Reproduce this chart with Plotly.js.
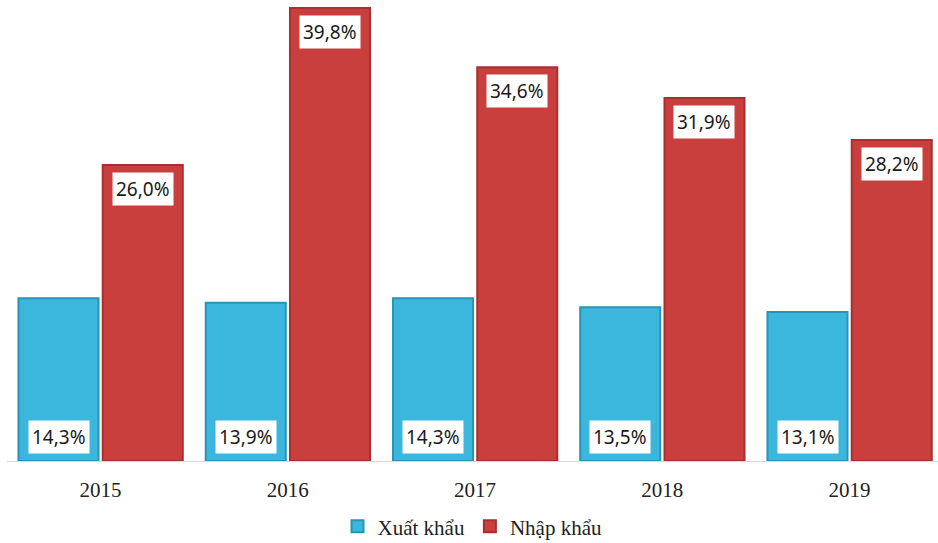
<!DOCTYPE html>
<html>
<head>
<meta charset="utf-8">
<script src="https://cdn.plot.ly/plotly-3.0.1.min.js"></script>
<style>
html,body{margin:0;padding:0;background:#fff;}
#chart{width:938px;height:543px;}
</style>
</head>
<body>
<div id="chart"></div>
<script>
const years = ['2015', '2016', '2017', '2018', '2019'];
const xuatKhau = [14.3, 13.9, 14.3, 13.5, 13.1];
const nhapKhau = [26.0, 39.8, 34.6, 31.9, 28.2];
const seriesNames = ['Xuất khẩu', 'Nhập khẩu'];

const fmt = v => v.toFixed(1).replace('.', ',') + '%';

const traces = [
  {
    type: 'bar', name: seriesNames[0], x: years, y: xuatKhau,
    marker: {color: '#3BB6DC', line: {color: '#2A93B8', width: 2}},
    hoverinfo: 'none'
  },
  {
    type: 'bar', name: seriesNames[1], x: years, y: nhapKhau,
    marker: {color: '#C93F3D', line: {color: '#A83030', width: 2}},
    hoverinfo: 'none'
  }
];

const annotations = [];
years.forEach((yr, i) => {
  annotations.push({
    x: i, y: 0, xref: 'x', yref: 'y', text: fmt(xuatKhau[i]),
    showarrow: false, xanchor: 'center', yanchor: 'bottom',
    xshift: -42, yshift: 7, bgcolor: '#ffffff', borderpad: 3,
    font: {family: 'Noto Sans, sans-serif', size: 19, color: '#1a1a1a'}
  });
  annotations.push({
    x: i, y: nhapKhau[i], xref: 'x', yref: 'y', text: fmt(nhapKhau[i]),
    showarrow: false, xanchor: 'center', yanchor: 'top',
    xshift: 42, yshift: -7, bgcolor: '#ffffff', borderpad: 3,
    font: {family: 'Noto Sans, sans-serif', size: 19, color: '#1a1a1a'}
  });
});

const layout = {
  width: 938, height: 543,
  margin: {l: 7, r: 0, t: 0, b: 82},
  paper_bgcolor: '#fff', plot_bgcolor: '#fff',
  barmode: 'group', bargap: 0.1, bargroupgap: 0.05,
  xaxis: {
    type: 'category', range: [-0.5, 4.472], automargin: false,
    showline: true, linecolor: '#d9d9d9', linewidth: 1,
    showgrid: false, zeroline: false, ticks: '', ticklabelstandoff: 10,
    tickfont: {family: 'Liberation Serif, serif', size: 21, color: '#222'}
  },
  yaxis: {
    range: [0, 40.5], showticklabels: false, showline: false,
    showgrid: false, zeroline: false, ticks: '', automargin: false
  },
  showlegend: true,
  legend: {
    orientation: 'h', x: 0.5, xanchor: 'center',
    yref: 'container', y: 0.03, yanchor: 'middle',
    font: {family: 'Liberation Serif, serif', size: 21, color: '#222'},
    tracegroupgap: 0
  },
  annotations: annotations
};

Plotly.newPlot('chart', traces, layout, {displayModeBar: false, staticPlot: true});
</script>
</body>
</html>
